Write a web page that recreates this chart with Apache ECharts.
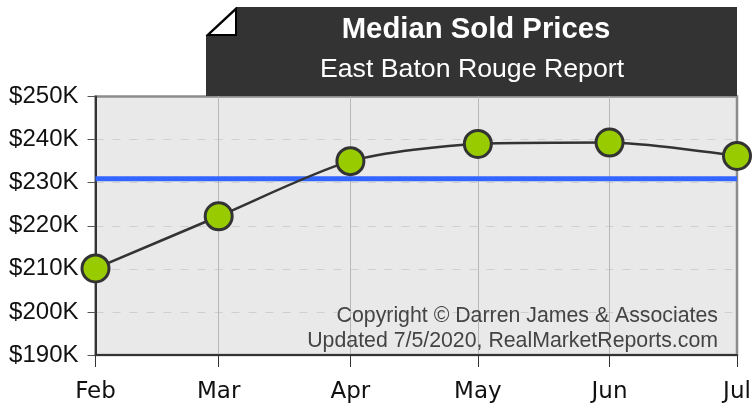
<!DOCTYPE html>
<html>
<head>
<meta charset="utf-8">
<title>Median Sold Prices</title>
<script src="https://cdn.jsdelivr.net/npm/echarts@6/dist/echarts.min.js"></script>
<style>
html, body { margin: 0; padding: 0; background: #fff; }
#chart { width: 754px; height: 404px; }
</style>
</head>
<body>
<div id="chart"></div>
<script>
// monthly dates, months are not evenly wide so x is placed by the actual date
var months = ['2020-02-01', '2020-03-01', '2020-04-01', '2020-05-01', '2020-06-01', '2020-07-01'];
var prices = [210.1, 222.2, 235.0, 239.0, 239.3, 236.2];
var average = [230.9, 230.9, 230.9, 230.9, 230.9, 230.9];
var monthLabels = ['Feb', 'Mar', 'Apr', 'May', 'Jun', 'Jul'];
var titleText = 'Median Sold Prices';
var subtitleText = 'East Baton Rouge Report';
var copyrightLines = ['Copyright © Darren James & Associates', 'Updated 7/5/2020, RealMarketReports.com'];

var monthTimes = months.map(function (m) { return Date.parse(m + 'T00:00:00Z'); });

function pairs(values) {
    return monthTimes.map(function (t, i) { return [t, values[i]]; });
}

var chart = echarts.init(document.getElementById('chart'), null, { renderer: 'canvas' });

chart.setOption({
    animation: false,
    backgroundColor: '#fff',
    grid: {
        left: 95.5, right: 17, top: 96.5, bottom: 49,
        show: true, backgroundColor: '#e9e9e9', borderColor: '#8c8c8c', borderWidth: 2.5, z: 0
    },
    xAxis: {
        type: 'value',
        min: monthTimes[0],
        max: monthTimes[5],
        axisLine: { show: true, onZero: false, lineStyle: { color: '#333', width: 2 } },
        axisTick: { show: true, length: 12, lineStyle: { color: '#333', width: 1 }, customValues: monthTimes },
        splitLine: { show: true, showMinLine: false, showMaxLine: false, lineStyle: { color: '#b8b8b8', width: 1 } },
        axisLabel: {
            show: true,
            customValues: monthTimes,
            formatter: function (v) { return monthLabels[monthTimes.indexOf(v)]; },
            color: '#111', fontFamily: 'DejaVu Sans', fontSize: 23, margin: 26,
            hideOverlap: false
        }
    },
    yAxis: {
        type: 'value', min: 190, max: 250, interval: 10,
        axisLine: { show: true, lineStyle: { color: '#333', width: 2 } },
        axisTick: { show: true, length: 8, lineStyle: { color: '#555', width: 1 } },
        splitLine: { show: true, showMinLine: false, showMaxLine: false, lineStyle: { color: '#cfcfcf', width: 1, type: [8, 9] } },
        axisLabel: {
            formatter: function (v) { return '$' + v + 'K'; },
            color: '#111', fontFamily: 'Liberation Sans', fontSize: 24, margin: 17
        }
    },
    series: [
        {
            name: 'Average', type: 'line', data: pairs(average),
            symbol: 'none', silent: true, z: 2,
            lineStyle: { color: '#3366ff', width: 5 }
        },
        {
            name: 'Median', type: 'line', data: pairs(prices),
            smooth: 0.25,
            symbol: 'circle', symbolSize: 27, clip: false, z: 3,
            lineStyle: { color: '#333', width: 2.5 },
            itemStyle: { color: '#99cc00', borderColor: '#333', borderWidth: 3, opacity: 1 }
        }
    ],
    graphic: [
        // dark header with folded corner
        { type: 'polygon', z: 10, shape: { points: [[206, 35], [236, 7], [737, 7], [737, 96], [206, 96]] }, style: { fill: '#333' } },
        { type: 'polygon', z: 11, shape: { points: [[208, 35], [236, 9], [236, 35]] }, style: { fill: '#fff', stroke: '#000', lineWidth: 2 } },
        { type: 'text', z: 12, x: 476, y: 30, style: { text: titleText, fill: '#fff', font: 'bold 29.3px "Liberation Sans"', textAlign: 'center', textVerticalAlign: 'middle' } },
        { type: 'text', z: 12, x: 472, y: 70, style: { text: subtitleText, fill: '#fff', font: '26.7px "Liberation Sans"', textAlign: 'center', textVerticalAlign: 'middle' } },
        { type: 'text', z: 12, x: 718, y: 316, style: { text: copyrightLines[0], fill: '#444', font: '21.3px "Liberation Sans"', textAlign: 'right', textVerticalAlign: 'middle' } },
        { type: 'text', z: 12, x: 718, y: 341, style: { text: copyrightLines[1], fill: '#444', font: '21.3px "Liberation Sans"', textAlign: 'right', textVerticalAlign: 'middle' } }
    ]
});
</script>
</body>
</html>
